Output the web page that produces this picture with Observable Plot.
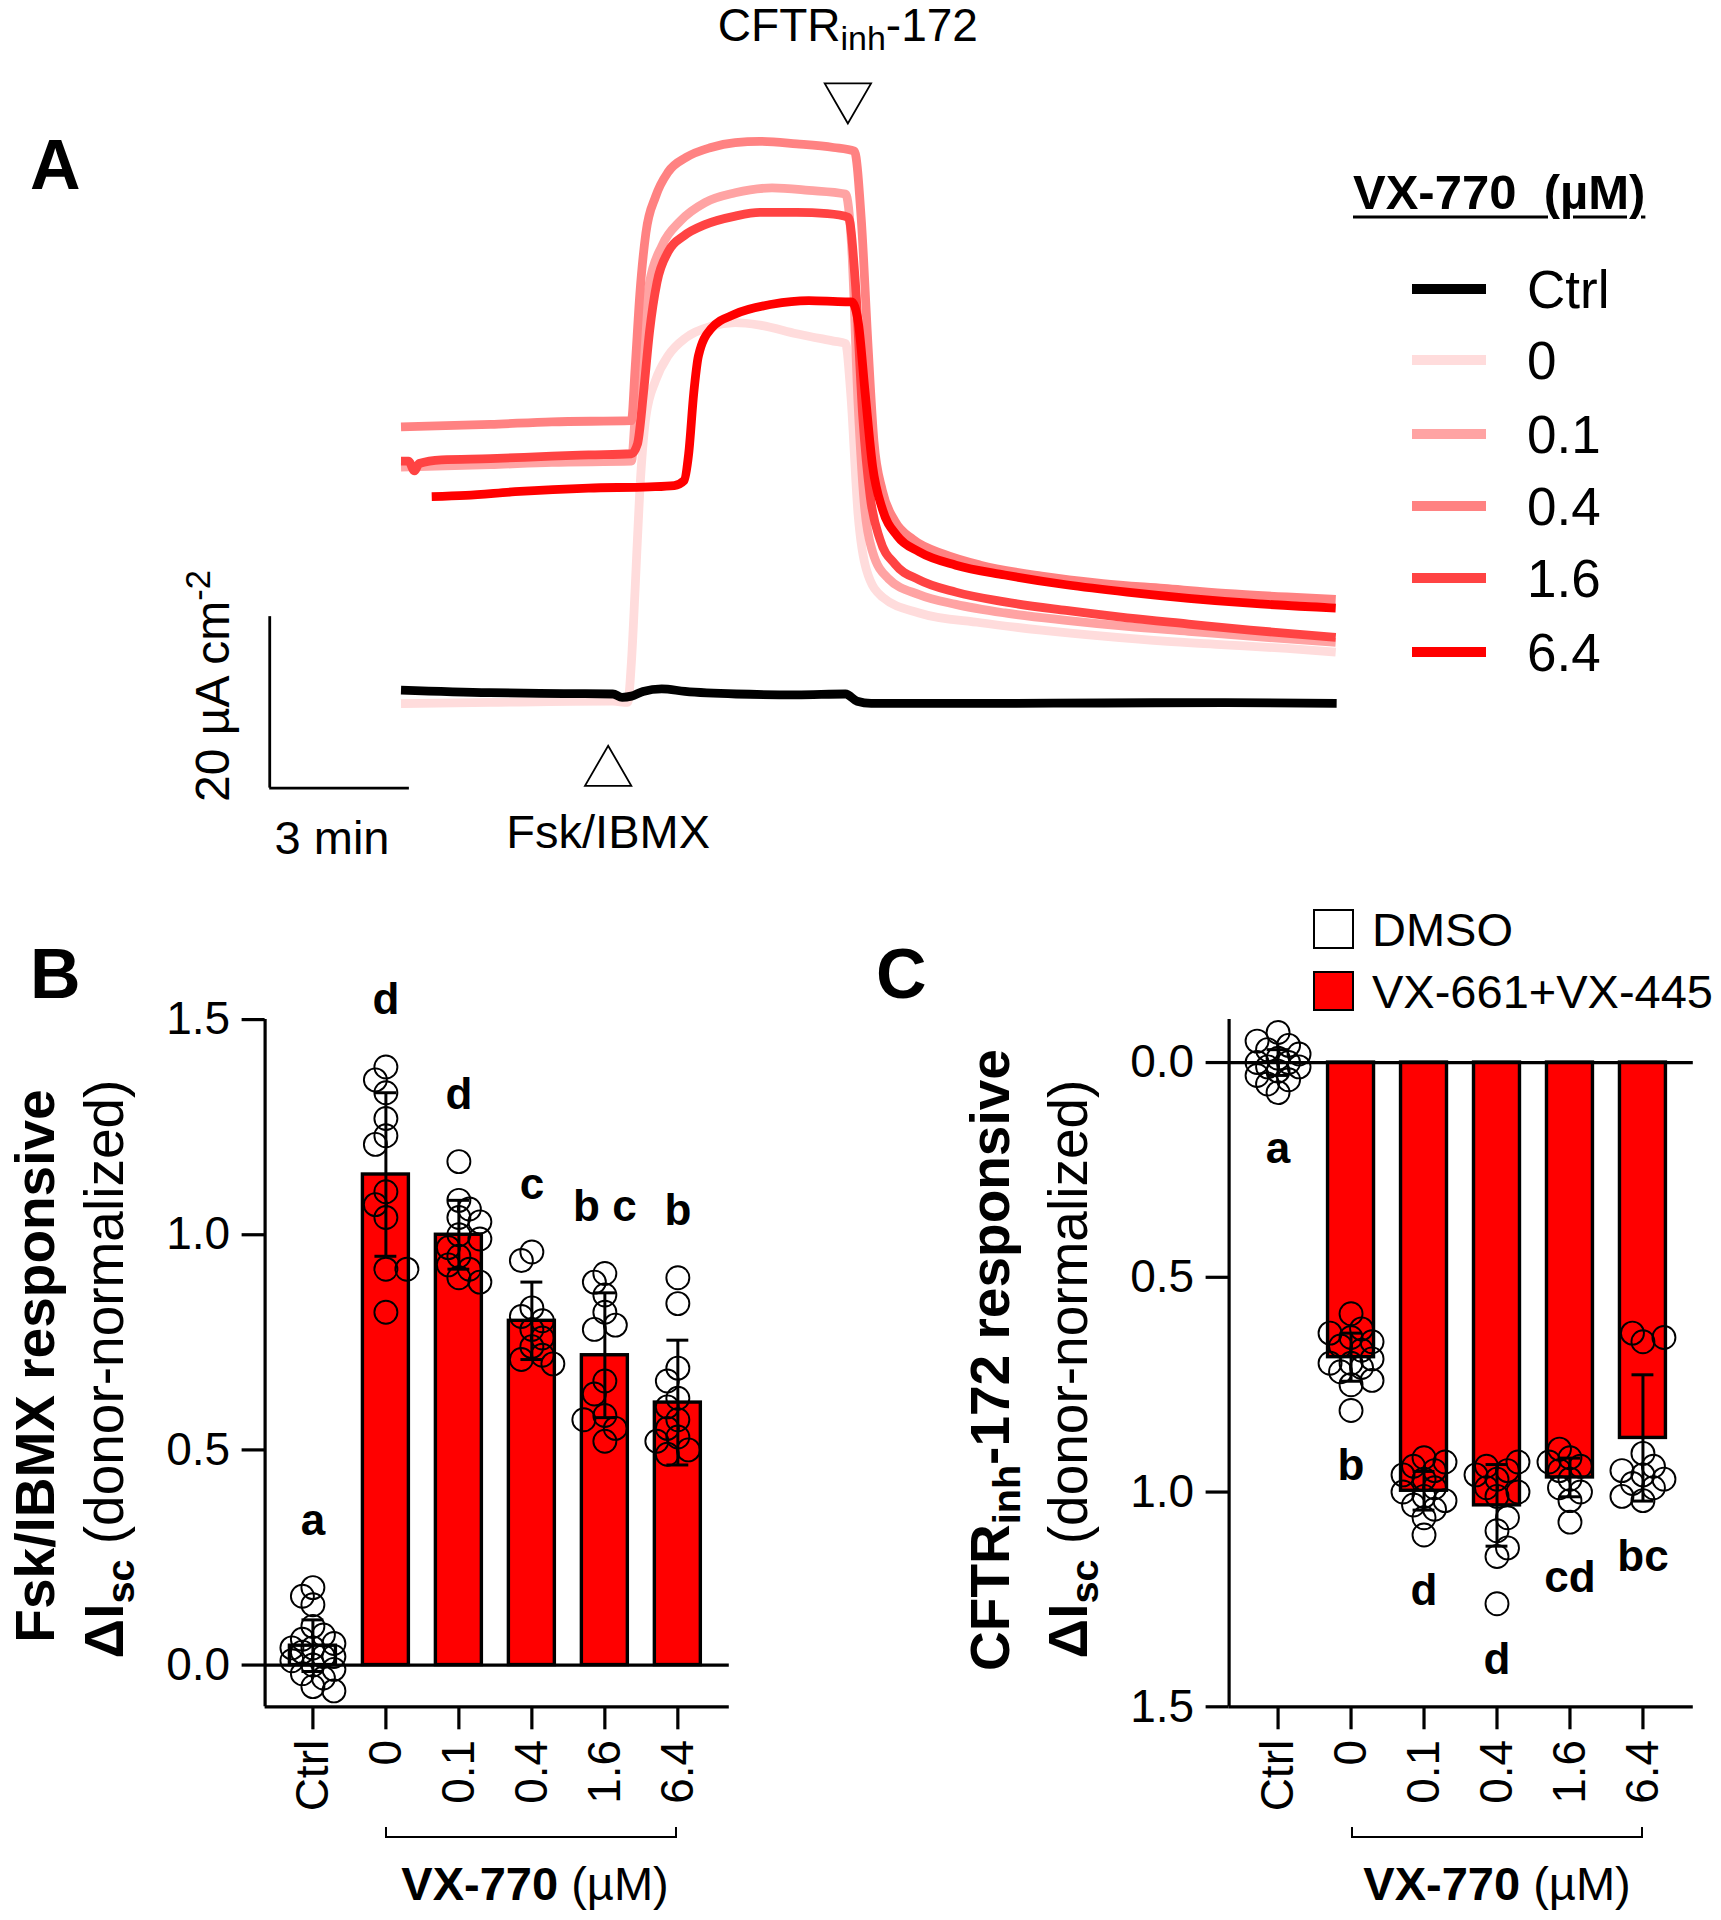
<!DOCTYPE html>
<html><head><meta charset="utf-8">
<script src="https://cdn.jsdelivr.net/npm/d3@7"></script>
<script src="https://cdn.jsdelivr.net/npm/@observablehq/plot@0.6"></script>
<style>
html,body{margin:0;padding:0;background:#fff;}
#fig{position:relative;width:1721px;height:1920px;overflow:hidden;font-family:"Liberation Sans",Arial,sans-serif;color:#000;background:#fff;}
#fig svg{position:absolute;left:0;top:0;}
.lab{position:absolute;white-space:nowrap;line-height:1;}
.sub{position:relative;top:0.28em;font-size:0.72em;}
.sup{position:relative;top:-0.55em;font-size:0.72em;}
</style></head><body><div id="fig"></div>
<script>
// ---------- Panel A: Isc traces (time in min, current in µA cm-2) ----------
const traceNames = ["Ctrl", "0", "0.1", "0.4", "1.6", "6.4"];
const traceColors = ["#000000", "#ffdcdc", "#ffa3a3", "#ff8282", "#ff4343", "#ff0000"];

const tCtrl = [0, 1.9, 3.5, 4.55, 4.75, 4.95, 5.2, 5.6, 6.1, 7.2, 8.5, 9.55, 9.8, 10.1, 12.5, 15.1, 17.7, 20.1];
const iCtrl = [1.0, 0.7, 0.6, 0.55, 0.15, 0.3, 0.85, 1.15, 0.85, 0.55, 0.45, 0.55, -0.3, -0.55, -0.55, -0.5, -0.45, -0.55];

const t0 = [0, 1.92, 4.55, 4.87, 4.95, 5.03, 5.13, 5.26, 5.47, 5.74, 6.13, 6.66, 7.18, 7.71, 8.5, 9.29, 9.55, 9.66, 9.82, 10.0, 10.34, 11.13, 12.45, 13.76, 15.08, 16.39, 17.71, 19.03, 20.08];
const i0 = [-0.57, -0.43, -0.29, -0.43, 4.29, 12.86, 24.29, 32.86, 37.14, 40.0, 42.14, 43.43, 43.86, 43.57, 42.57, 41.71, 41.43, 35.71, 21.43, 15.0, 11.86, 10.0, 8.86, 8.0, 7.29, 6.71, 6.29, 5.86, 5.43];

const t01 = [0, 1.92, 3.24, 4.95, 5.03, 5.16, 5.34, 5.61, 6.0, 6.53, 7.18, 7.97, 8.76, 9.55, 9.68, 9.82, 9.95, 10.13, 10.47, 11.13, 11.92, 12.97, 14.29, 15.6, 16.92, 18.24, 20.08];
const i01 = [27.0, 27.29, 27.57, 27.71, 32.86, 41.43, 48.57, 52.86, 55.71, 57.86, 59.0, 59.57, 59.29, 58.86, 52.86, 34.29, 22.86, 17.14, 14.0, 12.14, 11.0, 10.0, 9.14, 8.43, 7.86, 7.29, 6.57];

const t04 = [0, 1.92, 3.24, 4.95, 5.03, 5.13, 5.26, 5.47, 5.74, 6.13, 6.66, 7.18, 7.71, 8.5, 9.29, 9.74, 9.89, 10.03, 10.16, 10.34, 10.61, 11.0, 11.66, 12.45, 13.76, 15.08, 16.39, 17.71, 19.03, 20.08];
const i04 = [31.71, 32.0, 32.29, 32.43, 38.57, 47.14, 54.29, 58.57, 61.43, 63.14, 64.29, 64.86, 65.0, 64.71, 64.29, 63.86, 55.71, 41.43, 30.0, 24.29, 20.71, 18.57, 16.86, 15.57, 14.29, 13.43, 12.86, 12.29, 11.86, 11.57];

const t16 = [0, 0.16, 0.29, 0.39, 0.87, 1.92, 3.24, 4.03, 4.95, 5.08, 5.21, 5.34, 5.5, 5.74, 6.08, 6.53, 7.18, 7.71, 8.5, 9.16, 9.61, 9.76, 9.92, 10.08, 10.29, 10.61, 11.13, 11.92, 12.97, 14.29, 15.6, 16.92, 18.24, 20.08];
const i16 = [27.71, 27.71, 26.57, 27.43, 27.86, 28.0, 28.29, 28.43, 28.57, 29.71, 35.71, 42.86, 48.57, 52.14, 54.0, 55.29, 56.29, 56.71, 56.71, 56.57, 56.14, 48.57, 32.86, 23.57, 18.57, 15.71, 13.86, 12.43, 11.29, 10.29, 9.43, 8.71, 8.0, 7.14];

const t64 = [0.66, 1.39, 2.45, 4.03, 5.34, 5.87, 6.08, 6.18, 6.29, 6.39, 6.66, 7.18, 7.97, 8.76, 9.55, 9.68, 9.82, 9.97, 10.13, 10.34, 10.66, 11.13, 11.92, 12.97, 14.29, 15.6, 16.92, 18.24, 20.08];
const i64 = [23.57, 23.71, 24.14, 24.57, 24.71, 24.86, 25.43, 28.57, 35.71, 40.0, 43.14, 44.86, 46.0, 46.43, 46.29, 46.29, 44.0, 35.71, 27.14, 22.14, 19.0, 17.14, 15.57, 14.43, 13.29, 12.43, 11.71, 11.14, 10.57];

const eventNames = ["Fsk/IBMX", "CFTRinh-172"];
const eventTimes = [4.45, 9.6];
const scaleBarMin = 3;      // min
const scaleBarCurrent = 20; // µA cm-2

// ---------- Panels B & C ----------
const groups = ["Ctrl", "0", "0.1", "0.4", "1.6", "6.4"];
const yTicks = [0, 0.5, 1, 1.5];

const meanB = [0.045, 1.14, 1.0, 0.8, 0.72, 0.61];
const sdB = [0.06, 0.19, 0.08, 0.09, 0.145, 0.145];
const lettersB = ["a", "d", "d", "c", "b c", "b"];
const dotsBCtrl = [0.18, 0.16, 0.14, 0.09, 0.07, 0.06, 0.05, 0.04, 0.04, 0.03, 0.02, 0.02, 0.01, 0.0, -0.01, -0.02, -0.03, -0.05, -0.06];
const dotsB0 = [1.39, 1.36, 1.33, 1.27, 1.23, 1.21, 1.10, 1.07, 1.04, 0.92, 0.92, 0.82];
const dotsB01 = [1.17, 1.08, 1.06, 1.04, 1.03, 1.0, 0.99, 0.97, 0.95, 0.93, 0.92, 0.9, 0.89];
const dotsB04 = [0.96, 0.94, 0.83, 0.81, 0.8, 0.78, 0.76, 0.74, 0.72, 0.71, 0.7];
const dotsB16 = [0.91, 0.89, 0.86, 0.82, 0.79, 0.78, 0.66, 0.63, 0.58, 0.57, 0.55, 0.52];
const dotsB64 = [0.9, 0.84, 0.69, 0.66, 0.62, 0.6, 0.57, 0.55, 0.53, 0.52, 0.5, 0.49];

const meanC = [0.0, 0.686, 0.997, 1.031, 0.966, 0.874];
const sdC = [0.03, 0.056, 0.045, 0.095, 0.045, 0.147];
const lettersC = ["a", "b", "d", "d", "cd", "bc"];
const dotsCCtrl = [-0.07, -0.05, -0.04, -0.03, -0.02, -0.01, 0.0, 0.0, 0.01, 0.01, 0.02, 0.03, 0.04, 0.05, 0.07];
const dotsC0 = [0.585, 0.62, 0.63, 0.64, 0.65, 0.66, 0.67, 0.69, 0.7, 0.7, 0.71, 0.72, 0.74, 0.75, 0.81];
const dotsC01 = [0.92, 0.93, 0.94, 0.95, 0.96, 0.97, 0.99, 1.0, 1.01, 1.02, 1.03, 1.04, 1.06, 1.1];
const dotsC04 = [0.93, 0.94, 0.95, 0.96, 0.97, 0.99, 1.0, 1.01, 1.06, 1.09, 1.13, 1.15, 1.26];
const dotsC16 = [0.9, 0.92, 0.93, 0.94, 0.95, 0.97, 0.99, 1.0, 1.02, 1.07];
const dotsC64 = [0.63, 0.64, 0.65, 0.91, 0.94, 0.95, 0.96, 0.97, 0.98, 0.99, 1.01, 1.02];

const legendC = ["DMSO", "VX-661+VX-445"];
const barColors = ["#ffffff", "#ff0000"];

// ====================================================================
const FONT = '"Liberation Sans", Arial, Helvetica, sans-serif';
const fig = document.getElementById("fig");

function label(html, x, y, size, o = {}) {
  const d = document.createElement("div");
  d.className = "lab";
  d.innerHTML = html;
  d.style.left = x + "px";
  d.style.top = y + "px";
  d.style.fontSize = size + "px";
  d.style.fontWeight = o.weight || "normal";
  const anchor = o.anchor || "start";
  const tx = anchor === "start" ? "0" : anchor === "middle" ? "-50%" : "-100%";
  d.style.transform = `translate(${tx},-50%)` + (o.rotate ? ` rotate(${o.rotate}deg)` : "");
  if (o.css) Object.assign(d.style, o.css);
  fig.appendChild(d);
  return d;
}
function box(x, y, w, h, css) {
  const d = document.createElement("div");
  d.style.position = "absolute";
  d.style.left = x + "px"; d.style.top = y + "px";
  d.style.width = w + "px"; d.style.height = h + "px";
  d.style.boxSizing = "border-box";
  Object.assign(d.style, css);
  fig.appendChild(d);
  return d;
}

// ---------------- Panel A ----------------
const traceT = [tCtrl, t0, t01, t04, t16, t64];
const traceI = [iCtrl, i0, i01, i04, i16, i64];
const drawOrder = ["0", "0.1", "1.6", "0.4", "6.4", "Ctrl"];
const traceRows = [];
for (const name of drawOrder) {
  const k = traceNames.indexOf(name);
  traceT[k].forEach((t, j) => traceRows.push({s: name, t, I: traceI[k][j]}));
}
const events = eventNames.map((label, k) => ({label, t: eventTimes[k]}));

// scale bar anchored left of the first trace
const sbT0 = -2.82, sbI0 = -10.43;

const plotA = Plot.plot({
  width: 1721, height: 1920,
  x: {domain: [0, 20], range: [400.5, 400.5 + 20 * 46.55], axis: null},
  y: {domain: [0, 20], range: [698.2, 698.2 - 20 * 8.574], axis: null},
  color: {domain: traceNames, range: traceColors},
  style: {background: "transparent", overflow: "visible", fontFamily: FONT},
  marks: [
    Plot.line(traceRows, {x: "t", y: "I", z: "s", stroke: "s", strokeWidth: 8.8, curve: "monotone-x", strokeLinejoin: "round", strokeLinecap: "butt"}),
    // scale bar
    Plot.ruleX([sbT0], {y1: sbI0, y2: sbI0 + scaleBarCurrent, stroke: "black", strokeWidth: 2.8}),
    Plot.ruleY([sbI0], {x1: sbT0, x2: sbT0 + scaleBarMin, stroke: "black", strokeWidth: 2.8}),
    // event markers
    Plot.dot(events.filter(e => e.label === "Fsk/IBMX"), {x: "t", y: -8.6, symbol: "triangle", r: 17.2, stroke: "black", fill: "white", strokeWidth: 1.8}),
    Plot.dot(events.filter(e => e.label !== "Fsk/IBMX"), {x: "t", y: 70.2, symbol: "triangle", r: 17.2, rotate: 180, stroke: "black", fill: "white", strokeWidth: 1.8}),
    Plot.text(events.filter(e => e.label === "Fsk/IBMX"), {x: "t", y: -15.6, text: "label", fontSize: 47, fill: "black"}),
    Plot.text(events.filter(e => e.label !== "Fsk/IBMX"), {x: "t", y: 78.4, text: "label", fontSize: 46, fill: "black"})
  ]
});
fig.appendChild(plotA);
// subscript for CFTRinh-172
plotA.querySelectorAll("text").forEach(el => {
  if (el.textContent.trim() === "CFTRinh-172") {
    const ns = "http://www.w3.org/2000/svg";
    el.textContent = "";
    const a = document.createElementNS(ns, "tspan"); a.textContent = "CFTR";
    const b = document.createElementNS(ns, "tspan"); b.textContent = "inh"; b.setAttribute("font-size", "34"); b.setAttribute("dy", "9");
    const c = document.createElementNS(ns, "tspan"); c.textContent = "-172"; c.setAttribute("dy", "-9");
    el.append(a, b, c);
  }
});

// ---------------- swarm layout helper ----------------
function swarm(vals, pxY, pxX) {
  const step = 10.5, minD = 13, K = 2;
  const idx = vals.map((_, i) => i).sort((a, b) => vals[b] - vals[a]);
  const placed = [];
  const off = new Array(vals.length).fill(0);
  let flip = 1;
  for (const i of idx) {
    const y = vals[i] * pxY;
    const cands = [0];
    for (let k = 1; k <= K; k++) cands.push(flip * k * step, -flip * k * step);
    flip = -flip;
    const score = c => placed.reduce((m, p) => Math.min(m, Math.hypot(p.x - c, p.y - y)), Infinity);
    let chosen = cands.find(c => score(c) >= minD);
    if (chosen === undefined) chosen = cands.reduce((best, c) => score(c) > score(best) ? c : best, cands[0]);
    placed.push({x: chosen, y});
    off[i] = chosen / pxX;
  }
  return off;
}

function barPanel(cfg) {
  const rows = groups.map((g, i) => ({i, g, mean: cfg.mean[i], sd: cfg.sd[i], letter: cfg.letters[i],
    top: d3.max(cfg.dots[i]), fill: i === 0 ? barColors[0] : barColors[1]}));
  const dots = [];
  cfg.dots.forEach((vals, i) => {
    const off = swarm(vals, 430, 73);
    vals.forEach((v, j) => dots.push({i, v, x: i + off[j]}));
  });
  const hw = 0.315, cap = 0.15;
  const xMin = cfg.xDomain[0];
  const yBottom = cfg.reverse ? cfg.yDomain[1] : cfg.yDomain[0];
  const tickX = 23 / 73, tickY = (cfg.reverse ? 1 : -1) * 23 / 430;
  const AX = 3.2;
  return Plot.plot({
    width: 1721, height: 1920,
    marginLeft: cfg.left, marginRight: 1721 - cfg.right, marginTop: 1019.1, marginBottom: 1920 - 1706.3,
    x: {domain: cfg.xDomain, ticks: [0, 1, 2, 3, 4, 5], tickFormat: d => groups[d], tickRotate: -90, tickSize: 0, tickPadding: 33, label: null},
    y: {domain: cfg.yDomain, reverse: cfg.reverse, ticks: yTicks, tickFormat: d3.format(".1f"), tickSize: 0, tickPadding: 35, label: null},
    style: {background: "transparent", overflow: "visible", fontFamily: FONT, fontSize: "46px", color: "black"},
    marks: [
      Plot.rectY(rows, {x1: d => d.i - hw, x2: d => d.i + hw, y1: 0, y2: "mean", fill: "fill", stroke: "black", strokeWidth: 3.4}),
      Plot.ruleY([0], {stroke: "black", strokeWidth: AX}),
      // axes drawn as rules
      Plot.ruleX([xMin], {stroke: "black", strokeWidth: AX}),
      Plot.ruleY([yBottom], {stroke: "black", strokeWidth: AX}),
      Plot.ruleY(yTicks, {x1: xMin - tickX, x2: xMin, stroke: "black", strokeWidth: AX}),
      Plot.ruleX(groups.map((g, i) => i), {y1: yBottom, y2: yBottom + tickY, stroke: "black", strokeWidth: AX}),
      Plot.dot(dots, {x: "x", y: "v", r: 11.5, stroke: "black", strokeWidth: 1.9, fill: "none"}),
      Plot.ruleX(rows, {x: "i", y1: d => d.mean - d.sd, y2: d => d.mean + d.sd, stroke: "black", strokeWidth: 3}),
      Plot.ruleY(rows, {y: d => d.mean + d.sd, x1: d => d.i - cap, x2: d => d.i + cap, stroke: "black", strokeWidth: 3}),
      Plot.ruleY(rows, {y: d => d.mean - d.sd, x1: d => d.i - cap, x2: d => d.i + cap, stroke: "black", strokeWidth: 3}),
      Plot.text(rows, {x: "i", y: d => d.top + cfg.letterGap, text: "letter", fontSize: 44, fontWeight: "bold", fill: "black"})
    ]
  });
}

const plotB = barPanel({
  mean: meanB, sd: sdB, letters: lettersB,
  dots: [dotsBCtrl, dotsB0, dotsB01, dotsB04, dotsB16, dotsB64],
  left: 264.6, right: 728.8, xDomain: [-0.655, 5.705], yDomain: [-0.097, 1.5], reverse: false, letterGap: 0.155
});
fig.appendChild(plotB);

const plotC = barPanel({
  mean: meanC, sd: sdC, letters: lettersC,
  dots: [dotsCCtrl, dotsC0, dotsC01, dotsC04, dotsC16, dotsC64],
  left: 1228.6, right: 1692.8, xDomain: [-0.671, 5.69], yDomain: [-0.1, 1.5], reverse: true, letterGap: 0.13
});
fig.appendChild(plotC);

// ---------------- labels & legends ----------------
label("A", 30, 165, 70, {weight: "bold"});
label("B", 30, 974, 70, {weight: "bold"});
label("C", 876, 974, 70, {weight: "bold"});

// panel A scale-bar labels
label(`${scaleBarCurrent} µA cm<span class="sup">-2</span>`, 213, 686, 48, {anchor: "middle", rotate: -90});
label(`${scaleBarMin} min`, 332, 837, 47, {anchor: "middle"});

// panel A legend
label("VX-770&nbsp;&nbsp;(µM)", 1353, 192, 49, {weight: "bold", css: {textDecoration: "underline", textUnderlineOffset: "7px", textDecorationThickness: "2.5px"}});
const legY = [289, 360, 433.6, 506, 578.2, 651.6];
traceNames.forEach((n, k) => {
  box(1412, legY[k] - 5, 74, 10, {background: traceColors[k]});
  label(n, 1527, legY[k], 53);
});

// panel B axis title
label("Fsk/IBMX responsive", 35, 1366, 55, {anchor: "middle", rotate: -90, weight: "bold"});
label('<b>ΔI<span class="sub">sc</span></b> (donor-normalized)', 104, 1369, 55, {anchor: "middle", rotate: -90});
// panel C axis title
label('CFTR<span class="sub">inh</span>-172 responsive', 990, 1360, 55, {anchor: "middle", rotate: -90, weight: "bold"});
label('<b>ΔI<span class="sub">sc</span></b> (donor-normalized)', 1068, 1369, 55, {anchor: "middle", rotate: -90});

// brackets and captions
box(384.6, 1827, 292.8, 11, {borderLeft: "2.8px solid #000", borderRight: "2.8px solid #000", borderBottom: "2.8px solid #000"});
box(1351, 1827, 291.6, 11, {borderLeft: "2.8px solid #000", borderRight: "2.8px solid #000", borderBottom: "2.8px solid #000"});
label("<b>VX-770</b> (µM)", 535, 1883, 47, {anchor: "middle"});
label("<b>VX-770</b> (µM)", 1497, 1883, 47, {anchor: "middle"});

// panel C legend
const legCY = [928.5, 991];
legendC.forEach((n, k) => {
  box(1313, legCY[k] - 20, 41, 40, {background: barColors[k], border: "2.8px solid #000"});
  label(n, 1372, legCY[k], 47);
});
</script>
</body></html>
